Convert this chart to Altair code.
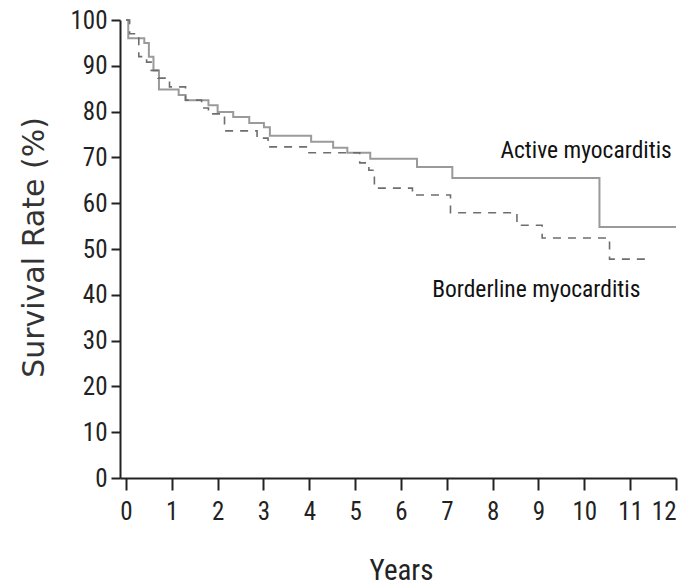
import altair as alt
import pandas as pd

# Kaplan-Meier style survival steps
active_years = [0, 0.05, 0.4, 0.5, 0.6, 0.72, 1.15, 1.3, 1.8, 2.0, 2.34, 2.69, 3.01, 3.14,
                4.04, 4.52, 4.83, 5.33, 6.35, 7.12, 10.33, 12.0]
active_surv = [100, 96, 95, 92, 89, 84.8, 83.6, 82.5, 81.4, 79.9, 78.8, 77.5, 76.6, 74.7,
               73.4, 72.1, 71.0, 69.7, 67.9, 65.5, 54.8, 54.8]

border_years = [0, 0.08, 0.28, 0.45, 0.55, 0.7, 0.95, 1.3, 1.65, 1.8, 2.15, 2.86, 3.1, 3.97,
                5.1, 5.3, 5.42, 6.25, 7.08, 8.53, 9.08, 10.55, 11.33]
border_surv = [100, 97, 92, 90.8, 89, 87.3, 85.4, 82.5, 80.8, 79.5, 75.8, 74.2, 72.3, 71.0,
               68.8, 67.2, 63.3, 61.8, 57.9, 55.2, 52.4, 47.8, 47.8]

label_text = ["Active myocarditis", "Borderline myocarditis"]
label_x = [8.17, 6.68]
label_y = [69.9, 39.5]

x_ticks = list(range(0, 13))
y_ticks = list(range(0, 101, 10))

active_df = pd.DataFrame({"t": active_years, "s": active_surv})
border_df = pd.DataFrame({"t": border_years, "s": border_surv})
label_df = pd.DataFrame({"label": label_text, "t": label_x, "s": label_y})

NARROW = "Liberation Sans Narrow, Arial Narrow, Roboto Condensed, Liberation Sans, sans-serif"

x_enc = alt.X("t:Q",
              scale=alt.Scale(domain=[-0.13, 12], nice=False, zero=False),
              axis=alt.Axis(values=x_ticks, title="Years", format="d",
                            tickSize=12, labelPadding=9,
                            titleX=281, titleY=101, titleBaseline="alphabetic",
                            titleFontSize=29, titleFont=NARROW, titleFontWeight="normal"))
y_enc = alt.Y("s:Q",
              scale=alt.Scale(domain=[0, 100], nice=False),
              axis=alt.Axis(values=y_ticks, title="Survival Rate (%)", format="d",
                            tickSize=9, labelPadding=4,
                            titleAngle=-90, titleX=-77, titleY=227,
                            titleAlign="center", titleBaseline="alphabetic",
                            titleFontSize=30, titleFont="DejaVu Sans",
                            titleFontWeight="normal", titleColor="#333333"))

active_line = alt.Chart(active_df).mark_line(
    interpolate="step-after", color="#9a9a9a", strokeWidth=2
).encode(x=x_enc, y=y_enc)

border_line = alt.Chart(border_df).mark_line(
    interpolate="step-after", color="#6e6e6e", strokeWidth=1.6, strokeDash=[8, 7]
).encode(x="t:Q", y="s:Q")

labels = alt.Chart(label_df).mark_text(
    align="left", baseline="alphabetic", font=NARROW, fontSize=23.5, color="#111111"
).encode(x="t:Q", y="s:Q", text="label:N")

chart = alt.layer(active_line, border_line, labels).properties(
    width=556, height=458,
    autosize=alt.AutoSizeParams(type="none"),
    padding={"left": 120, "top": 20, "right": 22, "bottom": 110},
    background="white",
).configure_view(stroke=None).configure_axis(
    grid=False,
    domainColor="#222222", domainWidth=2,
    tickColor="#222222", tickWidth=2,
    labelFont=NARROW, labelFontSize=25, labelColor="#222222",
    titleColor="#222222",
)

chart.save("out.html", embed_options={"renderer": "svg", "actions": False})
